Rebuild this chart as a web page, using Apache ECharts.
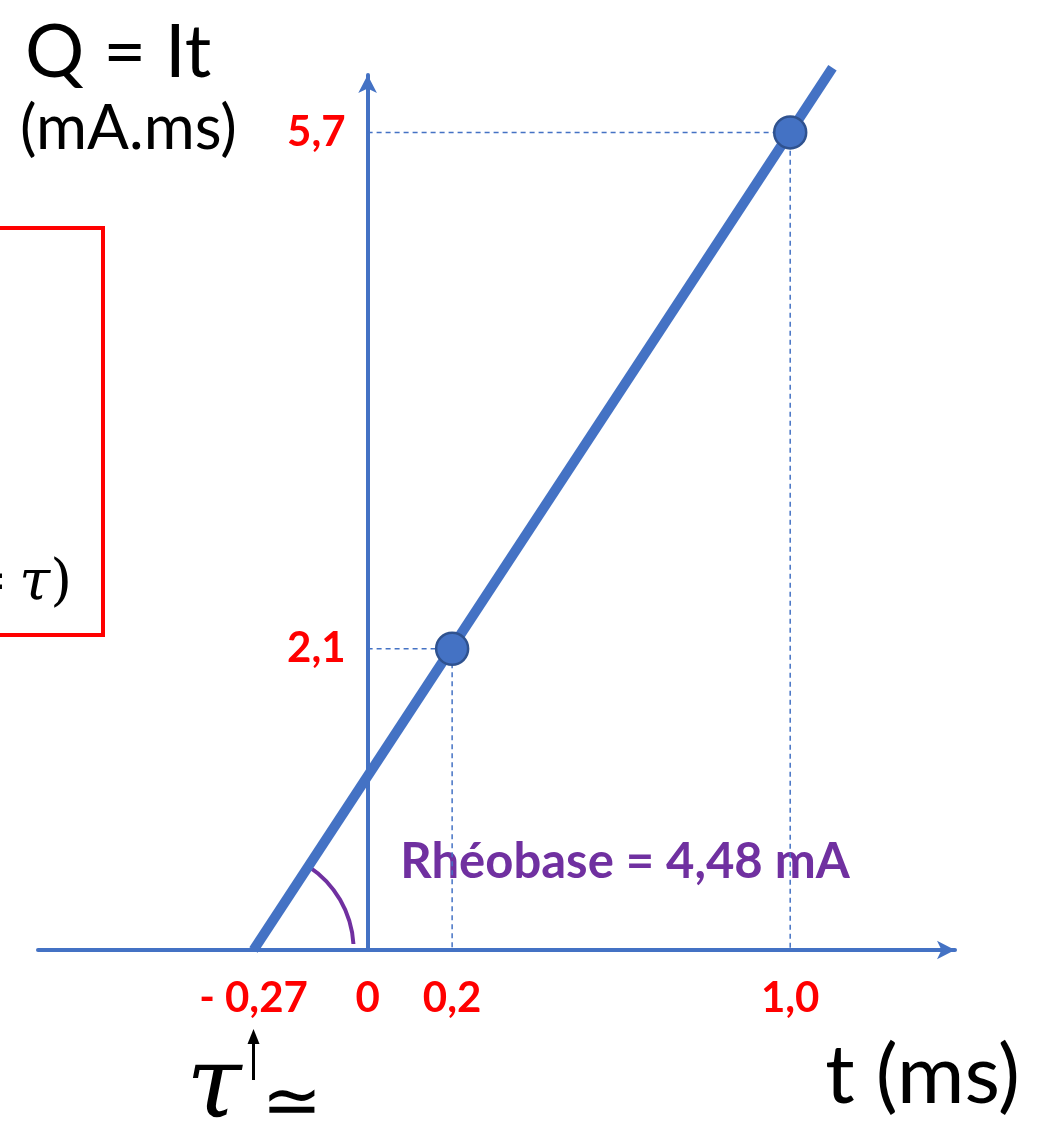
<!DOCTYPE html>
<html>
<head>
<meta charset="utf-8">
<title>Q = It</title>
<script src="https://cdn.jsdelivr.net/npm/echarts@6/dist/echarts.min.js"></script>
<style>
  html, body { margin: 0; padding: 0; background: #ffffff; }
  #chart { width: 1038px; height: 1145px; }
</style>
</head>
<body>
<div id="chart"></div>
<script>
// Charge Q = I·t against pulse duration t (Weiss law)
const tickT = [-0.27, 0, 0.2, 1.0];
const tickTLabels = ['- 0,27', '0', '0,2', '1,0'];
const tickQ = [2.1, 5.7];
const tickQLabels = ['2,1', '5,7'];
const pointT = [0.2, 1.0];
const pointQ = [2.1, 5.7];
const lineT = [-0.27, 1.1];
const lineQ = [0, 6.15];

const BLUE = '#4472C4';
const RED = '#FF0000';
const PURPLE = '#7030A0';
const FONT = 'Lato, "Open Sans", sans-serif';
const GRID_LEFT = 38;

function labelFor(values, labels) {
  return function (v) {
    for (let i = 0; i < values.length; i++) {
      if (Math.abs(values[i] - v) < 1e-6) return labels[i];
    }
    return '';
  };
}

const chart = echarts.init(document.getElementById('chart'), null, { renderer: 'canvas' });

// fitted straight line
const lineData = lineT.map((t, i) => [t, lineQ[i]]);
// measured points
const pointData = pointT.map((t, i) => [t, pointQ[i]]);
// dashed guides from each point to both axes
const guideSeries = pointT.map((t, i) => ({
  type: 'line',
  data: [[0, pointQ[i]], [t, pointQ[i]], [t, 0]],
  symbol: 'none',
  silent: true,
  z: 3,
  lineStyle: { color: BLUE, width: 1.5, type: [5, 4] }
}));

chart.setOption({
  animation: false,
  backgroundColor: '#ffffff',
  grid: { left: GRID_LEFT, right: 83, top: 75, bottom: 195, containLabel: false, outerBoundsMode: 'none' },
  xAxis: {
    type: 'value',
    min: -0.78,
    max: 1.39,
    splitLine: { show: false },
    axisTick: { show: false },
    axisLine: {
      show: true,
      symbol: ['none', 'arrow'],
      symbolSize: [14, 18],
      lineStyle: { color: BLUE, width: 4 }
    },
    axisLabel: {
      customValues: tickT,
      formatter: labelFor(tickT, tickTLabels),
      color: RED,
      fontFamily: FONT,
      fontWeight: 'bold',
      fontSize: 42,
      margin: 27
    }
  },
  yAxis: {
    type: 'value',
    min: 0,
    max: 6.1,
    splitLine: { show: false },
    axisTick: { show: false },
    axisLine: {
      show: true,
      onZero: false,
      symbol: ['none', 'arrow'],
      symbolSize: [14, 18],
      lineStyle: { color: BLUE, width: 4 }
    },
    axisLabel: {
      customValues: tickQ,
      formatter: labelFor(tickQ, tickQLabels),
      color: RED,
      fontFamily: FONT,
      fontWeight: 'bold',
      fontSize: 42,
      margin: 22
    }
  },
  series: [
    ...guideSeries,
    {
      type: 'line',
      data: lineData,
      symbol: 'none',
      clip: false,
      z: 4,
      lineStyle: { color: BLUE, width: 10, cap: 'butt' }
    },
    {
      type: 'scatter',
      data: pointData,
      symbol: 'circle',
      symbolSize: 32,
      z: 5,
      itemStyle: { color: BLUE, borderColor: '#2F528F', borderWidth: 2.5, opacity: 1 }
    }
  ]
});

// move the Q axis onto t = 0, with its labels
const originPx = chart.convertToPixel({ gridIndex: 0 }, [0, 0]);
chart.setOption({ yAxis: { offset: -(originPx[0] - GRID_LEFT) } });

// annotations placed from the axes' own scales
const rootPx = chart.convertToPixel({ gridIndex: 0 }, [lineT[0], lineQ[0]]);
const endPx = chart.convertToPixel({ gridIndex: 0 }, [lineT[1], lineQ[1]]);
const slopeAngle = Math.atan2(endPx[1] - rootPx[1], endPx[0] - rootPx[0]); // negative (upward)
const arcR = Math.max(60, (originPx[0] - rootPx[0]) - 14);

chart.setOption({
  graphic: [
    // axis titles
    { type: 'text', left: 25, top: 16, style: { text: 'Q = It', font: '74px ' + FONT, fill: '#000' } },
    { type: 'text', left: 20, top: 98, style: { text: '(mA.ms)', font: '62px ' + FONT, fill: '#000' } },
    { type: 'text', right: 18, top: 1036, style: { text: 't (ms)', font: '82px ' + FONT, fill: '#000' } },
    // framed formula box at the left edge
    {
      type: 'rect',
      shape: { x: -20, y: 228, width: 123, height: 407 },
      style: { fill: 'none', stroke: RED, lineWidth: 4 }
    },
    {
      type: 'text',
      x: 72, y: 612,
      style: {
        text: '{a|=\u2009}{t|τ}{a|)}',
        align: 'right',
        verticalAlign: 'bottom',
        rich: {
          a: { font: '56px "DejaVu Serif", serif', fill: '#000' },
          t: { font: 'italic 56px "DejaVu Serif", serif', fill: '#000' }
        }
      }
    },
    // angle of the line with the t axis
    {
      type: 'arc',
      shape: { cx: rootPx[0], cy: rootPx[1], r: arcR, startAngle: slopeAngle, endAngle: -0.06, clockwise: true },
      style: { stroke: PURPLE, lineWidth: 4, fill: 'none' },
      z: 1
    },
    {
      type: 'text',
      x: 625, y: 862,
      style: {
        text: 'Rhéobase = 4,48 mA',
        font: 'bold 49px ' + FONT,
        fill: PURPLE,
        align: 'center',
        verticalAlign: 'middle'
      }
    },
    // tau marker under the intercept label
    {
      type: 'line',
      shape: { x1: rootPx[0], y1: 1080, x2: rootPx[0], y2: 1040 },
      style: { stroke: '#000', lineWidth: 3 }
    },
    {
      type: 'polygon',
      shape: { points: [[rootPx[0], 1029], [rootPx[0] - 6, 1044], [rootPx[0] + 6, 1044]] },
      style: { fill: '#000' }
    },
    {
      type: 'text',
      x: rootPx[0] - 12, y: 1140,
      style: {
        text: 'τ',
        font: 'italic 100px "DejaVu Serif", serif',
        fill: '#000',
        align: 'right',
        verticalAlign: 'bottom'
      }
    },
    {
      type: 'text',
      x: rootPx[0] + 8, y: 1106,
      style: {
        text: '≃',
        font: '72px "DejaVu Sans", sans-serif',
        fill: '#000',
        align: 'left',
        verticalAlign: 'middle'
      }
    }
  ]
});
</script>
</body>
</html>
